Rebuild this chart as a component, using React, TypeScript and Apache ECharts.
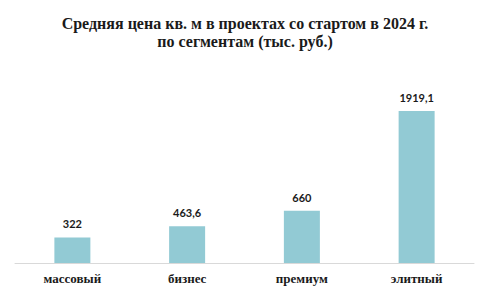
import React, { useEffect, useRef } from "react";
import * as echarts from "echarts";

const titleLines = ["Средняя цена кв. м в проектах со стартом в 2024 г.", "по сегментам (тыс. руб.)"];
const categories = ["массовый", "бизнес", "премиум", "элитный"];
const values = [322, 463.6, 660, 1919.1];

export default function App() {
  const ref = useRef<HTMLDivElement>(null);
  useEffect(() => {
    document.body.style.margin = "0";
    const chart = echarts.init(ref.current!, undefined, { renderer: "svg" });
    chart.setOption({
      animation: false,
      backgroundColor: "#ffffff",
      title: {
        text: titleLines.join("\n"),
        left: "center",
        top: 9,
        textStyle: {
          fontFamily: "Liberation Serif",
          fontWeight: "bold",
          fontSize: 16,
          lineHeight: 18,
          color: "#1a1a1a",
        },
      },
      grid: { left: 15, right: 16, top: 65, bottom: 32 },
      xAxis: {
        type: "category",
        data: categories,
        axisLine: { lineStyle: { color: "#d9d9d9", width: 1 } },
        axisTick: { show: false },
        axisLabel: {
          fontFamily: "Liberation Serif",
          fontWeight: "bold",
          fontSize: 13,
          color: "#1a1a1a",
          margin: 9,
        },
      },
      yAxis: {
        type: "value",
        min: 0,
        max: 2500,
        show: false,
        splitLine: { show: false },
      },
      series: [
        {
          type: "bar",
          data: values,
          barWidth: 36,
          itemStyle: { color: "#92cad4" },
          label: {
            show: true,
            position: "top",
            distance: 8,
            fontFamily: "Lato",
            fontWeight: "bold",
            fontSize: 11,
            color: "#1a1a1a",
            formatter: (p: any) => String(p.value).replace(".", ","),
          },
        },
      ],
    });
    return () => chart.dispose();
  }, []);
  return <div ref={ref} style={{ width: 490, height: 295 }} />;
}
